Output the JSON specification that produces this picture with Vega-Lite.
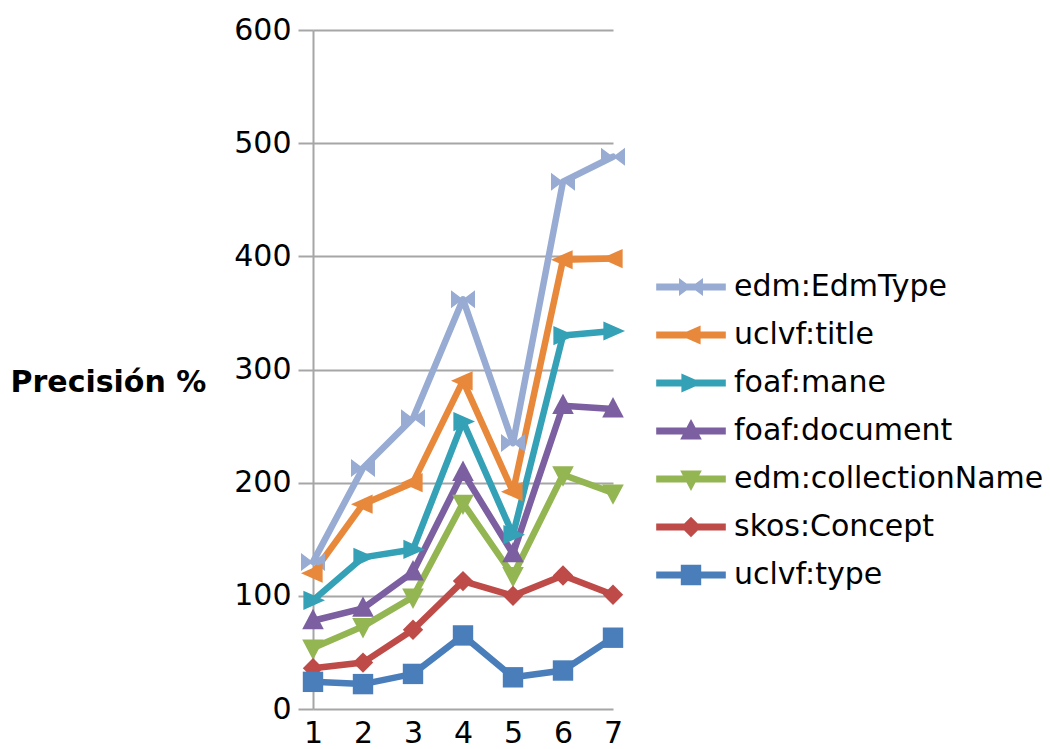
{
  "$schema": "https://vega.github.io/schema/vega-lite/v6.json",
  "width": 300,
  "height": 679,
  "autosize": "none",
  "padding": {"left": 313, "top": 30, "right": 437, "bottom": 40},
  "background": "white",
  "config": {
    "view": {"stroke": null},
    "font": "DejaVu Sans",
    "axis": {"labelFont": "DejaVu Sans", "titleFont": "DejaVu Sans", "labelColor": "#000000", "titleColor": "#000000"},
    "legend": {"labelFont": "DejaVu Sans", "labelColor": "#000000"}
  },
  "data": {
    "values": [
      {"x": 1, "s": "edm:EdmType", "v": 130}, {"x": 2, "s": "edm:EdmType", "v": 213}, {"x": 3, "s": "edm:EdmType", "v": 257}, {"x": 4, "s": "edm:EdmType", "v": 362}, {"x": 5, "s": "edm:EdmType", "v": 235}, {"x": 6, "s": "edm:EdmType", "v": 466}, {"x": 7, "s": "edm:EdmType", "v": 488},
      {"x": 1, "s": "uclvf:title", "v": 120}, {"x": 2, "s": "uclvf:title", "v": 181}, {"x": 3, "s": "uclvf:title", "v": 200}, {"x": 4, "s": "uclvf:title", "v": 290}, {"x": 5, "s": "uclvf:title", "v": 192}, {"x": 6, "s": "uclvf:title", "v": 397}, {"x": 7, "s": "uclvf:title", "v": 398},
      {"x": 1, "s": "foaf:mane", "v": 96}, {"x": 2, "s": "foaf:mane", "v": 134}, {"x": 3, "s": "foaf:mane", "v": 141}, {"x": 4, "s": "foaf:mane", "v": 254}, {"x": 5, "s": "foaf:mane", "v": 154}, {"x": 6, "s": "foaf:mane", "v": 330}, {"x": 7, "s": "foaf:mane", "v": 334},
      {"x": 1, "s": "foaf:document", "v": 78}, {"x": 2, "s": "foaf:document", "v": 89}, {"x": 3, "s": "foaf:document", "v": 121}, {"x": 4, "s": "foaf:document", "v": 209}, {"x": 5, "s": "foaf:document", "v": 137}, {"x": 6, "s": "foaf:document", "v": 268}, {"x": 7, "s": "foaf:document", "v": 265},
      {"x": 1, "s": "edm:collectionName", "v": 54}, {"x": 2, "s": "edm:collectionName", "v": 73}, {"x": 3, "s": "edm:collectionName", "v": 99}, {"x": 4, "s": "edm:collectionName", "v": 182}, {"x": 5, "s": "edm:collectionName", "v": 118}, {"x": 6, "s": "edm:collectionName", "v": 207}, {"x": 7, "s": "edm:collectionName", "v": 191},
      {"x": 1, "s": "skos:Concept", "v": 36}, {"x": 2, "s": "skos:Concept", "v": 41}, {"x": 3, "s": "skos:Concept", "v": 70}, {"x": 4, "s": "skos:Concept", "v": 113}, {"x": 5, "s": "skos:Concept", "v": 100}, {"x": 6, "s": "skos:Concept", "v": 118}, {"x": 7, "s": "skos:Concept", "v": 101},
      {"x": 1, "s": "uclvf:type", "v": 24}, {"x": 2, "s": "uclvf:type", "v": 22}, {"x": 3, "s": "uclvf:type", "v": 31}, {"x": 4, "s": "uclvf:type", "v": 65}, {"x": 5, "s": "uclvf:type", "v": 28}, {"x": 6, "s": "uclvf:type", "v": 34}, {"x": 7, "s": "uclvf:type", "v": 63}
    ]
  },
  "transform": [{"calculate": "'_' + datum.s", "as": "m"}],
  "encoding": {
    "x": {
      "field": "x", "type": "quantitative",
      "scale": {"domain": [1, 7], "nice": false, "zero": false},
      "axis": {"values": [1, 2, 3, 4, 5, 6, 7], "title": null, "grid": false, "domain": false, "ticks": false, "labelFontSize": 30, "labelPadding": 9, "labelFlush": false, "format": "d"}
    },
    "y": {
      "field": "v", "type": "quantitative",
      "scale": {"domain": [0, 600], "nice": false},
      "axis": {
        "values": [0, 100, 200, 300, 400, 500, 600],
        "title": "Precisión %", "titleAngle": 0, "titleFontSize": 30, "titleFontWeight": "bold",
        "titleAlign": "left", "titleBaseline": "middle", "titleX": -303, "titleY": 352,
        "grid": true, "gridColor": "#A6A6A6", "gridWidth": 2,
        "domainColor": "#A6A6A6", "domainWidth": 2,
        "tickColor": "#A6A6A6", "tickWidth": 2, "tickSize": 15,
        "labelFontSize": 30, "labelPadding": 7
      }
    },
    "color": {
      "field": "s", "type": "nominal",
      "scale": {
        "domain": ["edm:EdmType", "uclvf:title", "foaf:mane", "foaf:document", "edm:collectionName", "skos:Concept", "uclvf:type"],
        "range": ["#97ABD3", "#E8883B", "#34A1B6", "#7B5FA0", "#93B552", "#BE4B48", "#4A7EBB"]
      },
      "legend": {
        "title": null, "orient": "none", "legendX": 363, "legendY": 242,
        "labelFontSize": 30, "labelOffset": 28, "labelLimit": 0, "rowPadding": 18, "symbolSize": 576, "symbolStrokeWidth": 0,
        "symbolType": "M-2.9,-0.29L2.9,-0.29L2.9,0.29L-2.9,0.29Z",
        "padding": 0,
        "encode": {
          "symbols": {
            "update": {
              "shape": {"signal": "datum.value === 'edm:EdmType' ? 'M-2.9,-0.29L2.9,-0.29L2.9,0.29L-2.9,0.29Z M-1,-0.75L0,0L-1,0.75Z M1,-0.75L1,0.75L0,0Z' : datum.value === 'uclvf:title' ? 'M-2.9,-0.29L2.9,-0.29L2.9,0.29L-2.9,0.29Z M-1,0L0.8,-0.8L0.8,0.8Z' : datum.value === 'foaf:mane' ? 'M-2.9,-0.29L2.9,-0.29L2.9,0.29L-2.9,0.29Z M1,0L-0.8,0.8L-0.8,-0.8Z' : datum.value === 'foaf:document' ? 'M-2.9,-0.29L2.9,-0.29L2.9,0.29L-2.9,0.29Z M0,-1L0.9,0.7L-0.9,0.7Z' : datum.value === 'edm:collectionName' ? 'M-2.9,-0.29L2.9,-0.29L2.9,0.29L-2.9,0.29Z M0,1L-0.9,-0.7L0.9,-0.7Z' : datum.value === 'skos:Concept' ? 'M-2.9,-0.29L2.9,-0.29L2.9,0.29L-2.9,0.29Z M0,-0.85L0.85,0L0,0.85L-0.85,0Z' : 'M-2.9,-0.29L2.9,-0.29L2.9,0.29L-2.9,0.29Z M-0.85,-0.85L0.85,-0.85L0.85,0.85L-0.85,0.85Z'"},
              "fill": {"scale": "color", "field": "value"},
              "stroke": {"value": "transparent"},
              "opacity": {"value": 1},
              "fillOpacity": {"value": 1}
            }
          }
        }
      }
    }
  },
  "layer": [
    {
      "mark": {"type": "line", "strokeWidth": 6.5, "strokeJoin": "round", "strokeCap": "round"},
      "encoding": {"detail": {"field": "s"}}
    },
    {
      "mark": {"type": "point", "filled": true, "opacity": 1, "size": 576},
      "encoding": {
        "shape": {
          "field": "m", "type": "nominal", "legend": null,
          "scale": {
            "domain": ["_edm:EdmType", "_uclvf:title", "_foaf:mane", "_foaf:document", "_edm:collectionName", "_skos:Concept", "_uclvf:type"],
            "range": ["M-1,-0.75L0,0L-1,0.75Z M1,-0.75L1,0.75L0,0Z", "M-1,0L0.8,-0.8L0.8,0.8Z", "M1,0L-0.8,0.8L-0.8,-0.8Z", "M0,-1L0.9,0.7L-0.9,0.7Z", "M0,1L-0.9,-0.7L0.9,-0.7Z", "M0,-0.85L0.85,0L0,0.85L-0.85,0Z", "M-0.85,-0.85L0.85,-0.85L0.85,0.85L-0.85,0.85Z"]
          }
        }
      }
    }
  ]
}
